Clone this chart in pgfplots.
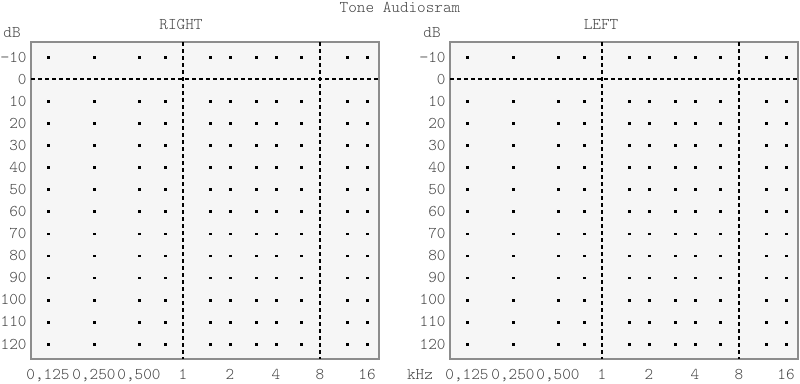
\documentclass[border=0pt]{standalone}
\usepackage{fontspec}
\setmainfont{Latin Modern Mono Light}
\usepackage{pgfplots}
\usepackage{pgfplotstable}
\pgfplotsset{compat=1.18}
\definecolor{bgfill}{HTML}{F6F6F6}
\definecolor{frame}{HTML}{8C8C8C}
\definecolor{txt}{HTML}{444444}
\pgfplotstableread[row sep=\\]{
x y\\
17 -10\\ 63 -10\\ 108 -10\\ 134 -10\\ 179 -10\\ 199 -10\\ 225 -10\\ 245 -10\\ 270 -10\\ 316 -10\\ 336 -10\\
17 10\\ 63 10\\ 108 10\\ 134 10\\ 179 10\\ 199 10\\ 225 10\\ 245 10\\ 270 10\\ 316 10\\ 336 10\\
17 20\\ 63 20\\ 108 20\\ 134 20\\ 179 20\\ 199 20\\ 225 20\\ 245 20\\ 270 20\\ 316 20\\ 336 20\\
17 30\\ 63 30\\ 108 30\\ 134 30\\ 179 30\\ 199 30\\ 225 30\\ 245 30\\ 270 30\\ 316 30\\ 336 30\\
17 40\\ 63 40\\ 108 40\\ 134 40\\ 179 40\\ 199 40\\ 225 40\\ 245 40\\ 270 40\\ 316 40\\ 336 40\\
17 50\\ 63 50\\ 108 50\\ 134 50\\ 179 50\\ 199 50\\ 225 50\\ 245 50\\ 270 50\\ 316 50\\ 336 50\\
17 60\\ 63 60\\ 108 60\\ 134 60\\ 179 60\\ 199 60\\ 225 60\\ 245 60\\ 270 60\\ 316 60\\ 336 60\\
17 70\\ 63 70\\ 108 70\\ 134 70\\ 179 70\\ 199 70\\ 225 70\\ 245 70\\ 270 70\\ 316 70\\ 336 70\\
17 80\\ 63 80\\ 108 80\\ 134 80\\ 179 80\\ 199 80\\ 225 80\\ 245 80\\ 270 80\\ 316 80\\ 336 80\\
17 90\\ 63 90\\ 108 90\\ 134 90\\ 179 90\\ 199 90\\ 225 90\\ 245 90\\ 270 90\\ 316 90\\ 336 90\\
17 100\\ 63 100\\ 108 100\\ 134 100\\ 179 100\\ 199 100\\ 225 100\\ 245 100\\ 270 100\\ 316 100\\ 336 100\\
17 110\\ 63 110\\ 108 110\\ 134 110\\ 179 110\\ 199 110\\ 225 110\\ 245 110\\ 270 110\\ 316 110\\ 336 110\\
17 120\\ 63 120\\ 108 120\\ 134 120\\ 179 120\\ 199 120\\ 225 120\\ 245 120\\ 270 120\\ 316 120\\ 336 120\\
}\gridtable
\pgfplotsset{
  audio/.style={
    scale only axis, width=348bp, height=317bp,
    xmin=0, xmax=348, ymin=-16.8, ymax=126.8, y dir=reverse,
    axis background/.style={fill=bgfill},
    axis line style={frame, line width=1.2bp},
    xtick={17,63,108,152,199,245,289,336},
    xticklabels={{0,125},{0,250},{0,500},1,2,4,8,16},
    ytick={-10,0,10,20,30,40,50,60,70,80,90,100,110,120},
    yticklabels={−10,0,10,20,30,40,50,60,70,80,90,100,110,120},
    major tick length=0pt,
    tick label style={font=\fontsize{16.4bp}{18bp}\selectfont, text=txt},
    xticklabel style={anchor=base, yshift=-20bp},
    yticklabel style={xshift=-1bp},
    clip=false,
  },
}
\begin{document}
\begin{tikzpicture}[x=1bp,y=1bp]
\useasboundingbox (0,0) rectangle (800,-383);
\tikzset{lbl/.style={font=\fontsize{16.4bp}{18bp}\selectfont, text=txt, inner sep=0pt, anchor=base}}
\node[lbl] at (400,-12.5) {Tone Audiosram};
\node[lbl] at (181,-29) {RIGHT};
\node[lbl] at (601,-29) {LEFT};
\node[lbl] at (12,-37) {dB};
\node[lbl] at (432,-37) {dB};
\node[lbl] at (420,-379) {kHz};
\begin{axis}[audio, at={(31bp,-359bp)}, anchor=south west]
\addplot[only marks, mark=square*, mark size=0.9bp, black] table[x=x,y=y] {\gridtable};
\addplot[black, line width=1.8bp, dash pattern=on 4bp off 3bp] coordinates {(0,0) (348,0)};
\addplot[black, line width=2bp, dash pattern=on 4bp off 3bp] coordinates {(152,-16.8) (152,126.8)};
\addplot[black, line width=2bp, dash pattern=on 4bp off 3bp] coordinates {(289,-16.8) (289,126.8)};
\end{axis}
\begin{axis}[audio, at={(450bp,-359bp)}, anchor=south west]
\addplot[only marks, mark=square*, mark size=0.9bp, black] table[x=x,y=y] {\gridtable};
\addplot[black, line width=1.8bp, dash pattern=on 4bp off 3bp] coordinates {(0,0) (348,0)};
\addplot[black, line width=2bp, dash pattern=on 4bp off 3bp] coordinates {(152,-16.8) (152,126.8)};
\addplot[black, line width=2bp, dash pattern=on 4bp off 3bp] coordinates {(289,-16.8) (289,126.8)};
\end{axis}
\end{tikzpicture}
\end{document}
